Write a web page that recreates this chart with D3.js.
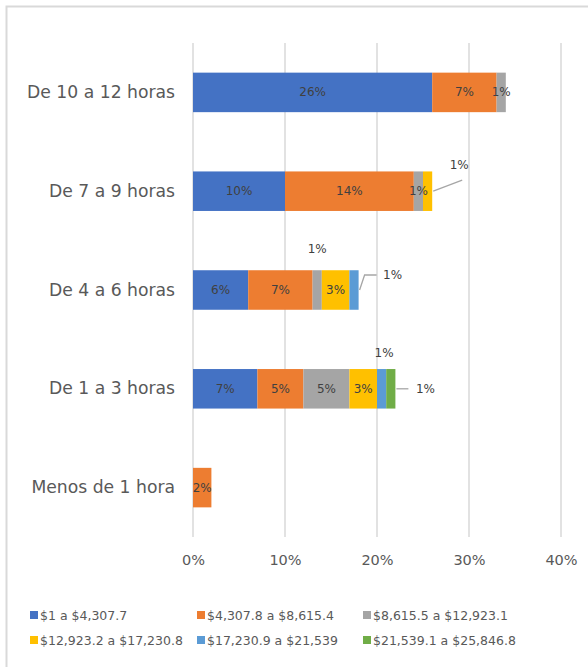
<!DOCTYPE html>
<html>
<head>
<meta charset="utf-8">
<script src="https://cdn.jsdelivr.net/npm/d3@7"></script>
<style>
  html, body { margin: 0; padding: 0; background: #fff; }
  svg { display: block; }
  text { font-family: "DejaVu Sans", sans-serif; }
</style>
</head>
<body>
<svg id="chart" width="588" height="667"></svg>
<script>
// ---------- DATA ----------
const categories = ["De 10 a 12 horas", "De 7 a 9 horas", "De 4 a 6 horas", "De 1 a 3 horas", "Menos de 1 hora"];
const seriesNames = ["$1 a $4,307.7", "$4,307.8 a $8,615.4", "$8,615.5 a $12,923.1",
                     "$12,923.2 a $17,230.8", "$17,230.9 a $21,539", "$21,539.1 a $25,846.8"];
const seriesColors = ["#4472C4", "#ED7D31", "#A5A5A5", "#FFC000", "#5B9BD5", "#70AD47"];
// values in percent, in category order
const s1 = [26, 10, 6, 7, 0];
const s2 = [7, 14, 7, 5, 2];
const s3 = [1, 1, 1, 5, 0];
const s4 = [0, 1, 3, 3, 0];
const s5 = [0, 0, 1, 1, 0];
const s6 = [0, 0, 0, 1, 0];
const seriesValues = [s1, s2, s3, s4, s5, s6];
const xTicks = [0, 10, 20, 30, 40];

// ---------- LAYOUT ----------
const W = 588, H = 667;
const plot = { left: 193, right: 561, top: 43, bottom: 537 };
const svg = d3.select("#chart");

// chart frame
svg.append("rect")
  .attr("x", 6.5).attr("y", 6.5)
  .attr("width", W + 10).attr("height", H + 10)
  .attr("fill", "#fff").attr("stroke", "#d9d9d9").attr("stroke-width", 2);

const x = d3.scaleLinear().domain([0, 40]).range([plot.left, plot.right]);
const y = d3.scaleBand().domain(categories).range([plot.top, plot.bottom]).paddingInner(0.6).paddingOuter(0.3);

// gridlines
svg.append("g").selectAll("line").data(xTicks).join("line")
  .attr("x1", d => x(d)).attr("x2", d => x(d))
  .attr("y1", plot.top).attr("y2", plot.bottom)
  .attr("stroke", "#d9d9d9").attr("stroke-width", 1.5);

// x axis labels
const xAxis = d3.axisBottom(x).tickValues(xTicks).tickFormat(d => d + "%").tickSize(0).tickPadding(0);
const gx = svg.append("g").attr("transform", `translate(0,${plot.bottom + 18})`).call(xAxis);
gx.select(".domain").remove();
gx.selectAll("text").attr("fill", "#595959").style("font-size", "14.5px")
  .style("font-family", '"DejaVu Sans", sans-serif');

// y axis labels
const yAxis = d3.axisLeft(y).tickSize(0).tickPadding(18);
const gy = svg.append("g").attr("transform", `translate(${plot.left},0)`).call(yAxis);
gy.select(".domain").remove();
gy.selectAll("text").attr("fill", "#595959").style("font-size", "17.2px")
  .style("font-family", '"DejaVu Sans", sans-serif');

// stacked data
const rows = categories.map((c, i) => {
  const r = { cat: c };
  seriesNames.forEach((s, j) => { r[s] = seriesValues[j][i]; });
  return r;
});
const stacked = d3.stack().keys(seriesNames)(rows);

const gBars = svg.append("g");
stacked.forEach((layer, j) => {
  gBars.append("g").attr("fill", seriesColors[j])
    .selectAll("rect").data(layer.filter(d => d[1] - d[0] > 0)).join("rect")
    .attr("x", d => x(d[0]))
    .attr("y", d => y(d.data.cat))
    .attr("width", d => x(d[1]) - x(d[0]))
    .attr("height", y.bandwidth());
});

// callouts for small segments: [category index, series index, label dx, label dy, leader points (relative)]
// anchor: "end" = relative to segment right end; "mid" = relative to segment center
const callouts = [
  { c: 1, s: 3, anchor: "end", dx: 27, dy: -26, leader: [[1, 0], [30, -11]] },
  { c: 2, s: 2, anchor: "mid", dx: 0, dy: -41, leader: null },
  { c: 2, s: 4, anchor: "end", dx: 34, dy: -15, leader: [[1, 0], [6, -15], [18, -15]] },
  { c: 3, s: 4, anchor: "mid", dx: 2.5, dy: -36, leader: null },
  { c: 3, s: 5, anchor: "end", dx: 30, dy: 0, leader: [[1, 0], [13, 0]] }
];

const gLabels = svg.append("g").style("font-size", "12px");
stacked.forEach((layer, j) => {
  layer.forEach((d, i) => {
    const v = d[1] - d[0];
    if (v <= 0) return;
    const cy = y(d.data.cat) + y.bandwidth() / 2;
    const co = callouts.find(o => o.c === i && o.s === j);
    if (!co) {
      gLabels.append("text")
        .attr("x", (x(d[0]) + x(d[1])) / 2).attr("y", cy)
        .attr("text-anchor", "middle").attr("dominant-baseline", "central")
        .attr("fill", "#404040").text(v + "%");
    } else {
      const ax = co.anchor === "end" ? x(d[1]) : (x(d[0]) + x(d[1])) / 2;
      if (co.leader) {
        gLabels.append("polyline")
          .attr("points", co.leader.map(p => [ax + p[0], cy + p[1]].join(",")).join(" "))
          .attr("fill", "none").attr("stroke", "#a6a6a6").attr("stroke-width", 1.3);
      }
      gLabels.append("text")
        .attr("x", ax + co.dx).attr("y", cy + co.dy)
        .attr("text-anchor", "middle").attr("dominant-baseline", "central")
        .attr("fill", "#404040").text(v + "%");
    }
  });
});

// legend
const legendCols = [30, 197, 363];
const legendRows = [615, 640];
const gLeg = svg.append("g").style("font-size", "12.5px");
seriesNames.forEach((name, j) => {
  const lx = legendCols[j % 3], ly = legendRows[Math.floor(j / 3)];
  gLeg.append("rect").attr("x", lx).attr("y", ly - 4).attr("width", 8).attr("height", 8)
    .attr("fill", seriesColors[j]);
  gLeg.append("text").attr("x", lx + 10).attr("y", ly).attr("dominant-baseline", "central")
    .attr("fill", "#595959").text(name);
});
</script>
</body>
</html>
